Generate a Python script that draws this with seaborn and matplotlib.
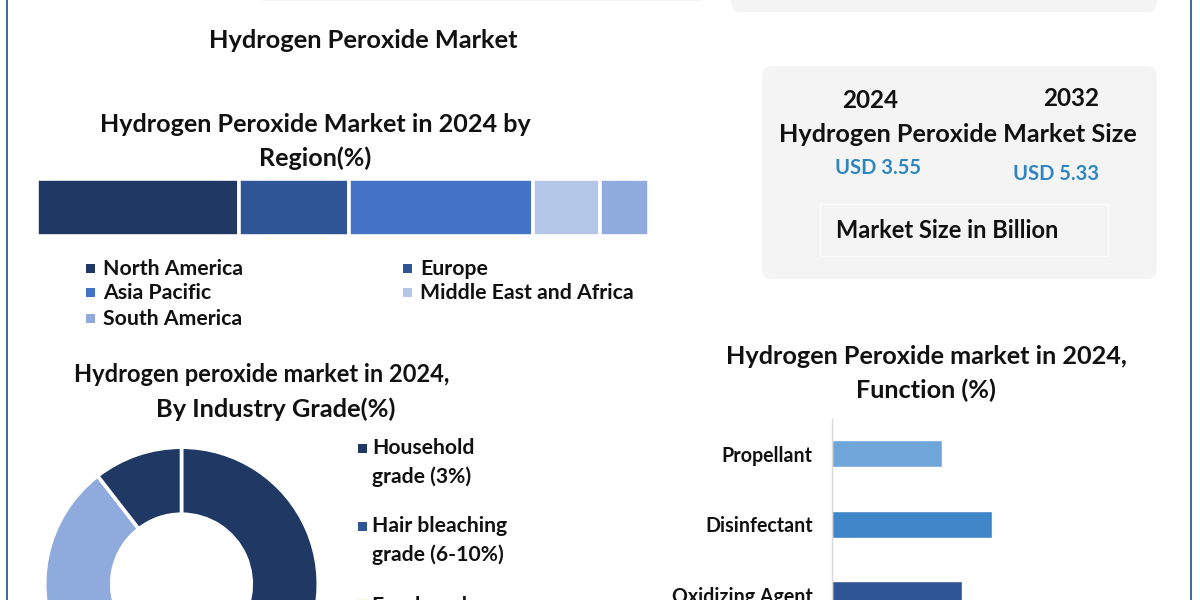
import matplotlib
matplotlib.use("Agg")
import matplotlib.pyplot as plt
from matplotlib.patches import FancyBboxPatch, Rectangle
import pandas as pd
import seaborn as sns

regions = ["North America", "Europe", "Asia Pacific", "Middle East and Africa", "South America"]
region_share = [33, 18, 30, 11, 8]
region_colors = ["#1f3864", "#2f5597", "#4472c4", "#b4c7e7", "#8faadc"]

grade_share = [37, 15, 15, 22.5, 10.5]
grade_colors = ["#1f3864", "#2f5597", "#4472c4", "#8faadc", "#1f3864"]

functions = ["Propellant", "Disinfectant", "Oxidizing Agent"]
function_share = [22, 32, 26]
function_colors = ["#70a5da", "#3f87c9", "#2f5597"]

market_years = ["2024", "2032"]
market_values = ["USD 3.55", "USD 5.33"]

sns.set_theme(style="white")
plt.rcParams["font.family"] = ["Lato", "DejaVu Sans"]
plt.rcParams["font.weight"] = "bold"

W, H = 1200, 600
INK = "#111111"
fig = plt.figure(figsize=(12, 6), dpi=100, facecolor="white")


def px_axes(left, top, right, bottom, **kw):
    return fig.add_axes([left / W, 1 - bottom / H, (right - left) / W, (bottom - top) / H], **kw)


# Page furniture and text layer, in pixel units
bg = px_axes(0, 0, W, H)
bg.set_xlim(0, W)
bg.set_ylim(H, 0)
bg.axis("off")


def card(x0, y0, x1, y1, pad=10):
    bg.add_patch(FancyBboxPatch((x0 + pad, y0 + pad), x1 - x0 - 2 * pad, y1 - y0 - 2 * pad,
                                boxstyle=f"round,pad={pad},rounding_size={pad}",
                                fc="#f4f4f4", ec="none", zorder=1))


def text(x, y, s, size, color=INK, ha="center"):
    bg.text(x, y, s, fontsize=size, color=color, ha=ha, va="center", fontweight="bold", zorder=5)


bg.plot([7, 7], [0, H], color="#33607f", lw=1.3, zorder=2)
bg.plot([1190.5, 1190.5], [0, H], color="#33607f", lw=1.3, zorder=2)
card(255, -40, 708, 1)
card(731, -40, 1157, 12)
card(762, 66, 1157, 279)
bg.add_patch(Rectangle((820, 204), 288, 52, fc="#f4f4f4", ec="#fbfbfb", lw=1, zorder=2))

text(363, 40, "Hydrogen Peroxide Market", 18.3)
text(315, 124, "Hydrogen Peroxide Market in 2024 by", 18.1)
text(315, 158, "Region(%)", 18.1)
text(262, 375, "Hydrogen peroxide market in 2024,", 17)
text(276, 409, "By Industry Grade(%)", 18.3)
text(926, 356, "Hydrogen Peroxide market in 2024,", 18.2)
text(926, 390, "Function (%)", 18.2)

text(870, 100, market_years[0], 17.5)
text(1071, 98, market_years[1], 17.5)
text(958, 134, "Hydrogen Peroxide Market Size", 18.2)
text(878, 168, market_values[0], 14.5, color="#2e86c1")
text(1056, 174, market_values[1], 14.5, color="#2e86c1")
text(947, 230, "Market Size in Billion", 17)

# Region legend
legend_slots = {0: (87, 268), 1: (404, 268), 2: (87, 292), 3: (404, 292), 4: (87, 318)}
for i, (lx, ly) in legend_slots.items():
    bg.add_patch(Rectangle((lx - 1, ly - 4.5), 9, 9, fc=region_colors[i], ec="none", zorder=4))
    text(lx + 16, ly + 1, regions[i], 15.3, ha="left")

# Grade legend
for ly, color, lines in [(448, "#1f3864", ["Household", "grade (3%)"]),
                         (526, "#2f5597", ["Hair bleaching", "grade (6-10%)"]),
                         (603, "#f6f6d8", ["Food grade"])]:
    bg.add_patch(Rectangle((357.5, ly - 4.5), 9, 9, fc=color, ec="none", zorder=4))
    for j, line in enumerate(lines):
        text(372, ly + (3 if len(lines) == 1 else 0) + j * 28.5, line, 15.2, ha="left")

# Stacked region bar
ax_region = px_axes(36.7, 178.7, 649.3, 236.3)
left = 0
for share, color in zip(region_share, region_colors):
    ax_region.barh([0], [share], left=left, height=1, color=color, edgecolor="white", linewidth=2.6)
    left += share
ax_region.set_xlim(0, 100)
ax_region.set_ylim(-0.5, 0.5)
ax_region.axis("off")

# Donut, running past the bottom of the canvas
ax_grade = px_axes(44.7, 447.2, 318.3, 720.8)
ax_grade.pie(grade_share, colors=grade_colors, startangle=90, counterclock=False, radius=1,
             wedgeprops=dict(width=0.49, edgecolor="white", linewidth=2.6))
ax_grade.set_xlim(-1, 1)
ax_grade.set_ylim(-1, 1)

# Function bars, running past the bottom of the canvas
ax_func = px_axes(832, 418.5, 1132, 630)
df = pd.DataFrame({"function": functions, "share": function_share})
sns.barplot(data=df, y="function", x="share", hue="function", palette=function_colors,
            legend=False, width=0.383, saturation=1, ax=ax_func)
ax_func.set_xlim(0, 60)
ax_func.set_xlabel("")
ax_func.set_ylabel("")
ax_func.set_xticks([])
ax_func.tick_params(axis="y", length=0, pad=14, labelsize=14.1, labelcolor=INK)
sns.despine(ax=ax_func, top=True, right=True, bottom=True)
ax_func.spines["left"].set_color("#d9d9d9")
ax_func.spines["left"].set_linewidth(1)
ax_func.patch.set_alpha(0)

fig.savefig("out.png", dpi=100)
